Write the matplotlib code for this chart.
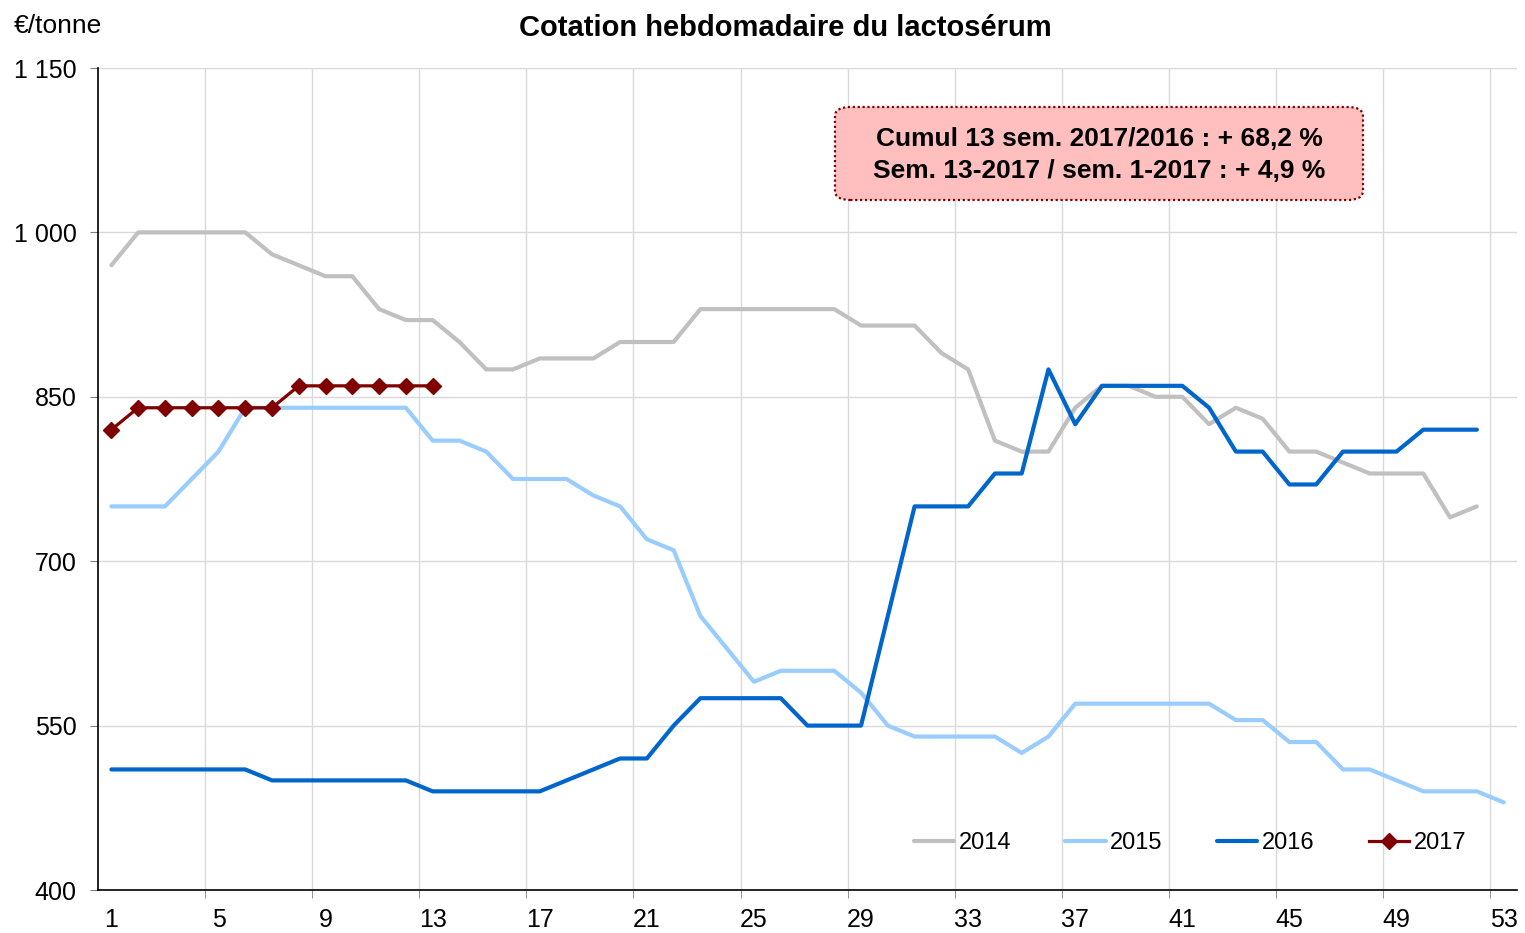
import matplotlib
matplotlib.use("Agg")
import matplotlib.pyplot as plt
from matplotlib.patches import FancyBboxPatch

plt.rcParams['font.family'] = ['Liberation Sans', 'DejaVu Sans']

# weekly whey prices, euro / tonne
weeks = list(range(1, 54))
p2014 = [970, 1000, 1000, 1000, 1000, 1000, 980, 970, 960, 960, 930, 920, 920, 900, 875, 875, 885, 885, 885, 900,
         900, 900, 930, 930, 930, 930, 930, 930, 915, 915, 915, 890, 875, 810, 800, 800, 840, 860, 860, 850,
         850, 825, 840, 830, 800, 800, 790, 780, 780, 780, 740, 750]
p2015 = [750, 750, 750, 775, 800, 840, 840, 840, 840, 840, 840, 840, 810, 810, 800, 775, 775, 775, 760, 750,
         720, 710, 650, 620, 590, 600, 600, 600, 580, 550, 540, 540, 540, 540, 525, 540, 570, 570, 570, 570,
         570, 570, 555, 555, 535, 535, 510, 510, 500, 490, 490, 490, 480]
p2016 = [510, 510, 510, 510, 510, 510, 500, 500, 500, 500, 500, 500, 490, 490, 490, 490, 490, 500, 510, 520,
         520, 550, 575, 575, 575, 575, 550, 550, 550, 650, 750, 750, 750, 780, 780, 875, 825, 860, 860, 860,
         860, 840, 800, 800, 770, 770, 800, 800, 800, 820, 820, 820]
p2017 = [820, 840, 840, 840, 840, 840, 840, 860, 860, 860, 860, 860, 860]

yticks = [400, 550, 700, 850, 1000, 1150]
ylabels = ['400', '550', '700', '850', '1 000', '1 150']
xlabels = [1, 5, 9, 13, 17, 21, 25, 29, 33, 37, 41, 45, 49, 53]
note = "Cumul 13 sem. 2017/2016 : + 68,2 %\nSem. 13-2017 / sem. 1-2017 : + 4,9 %"

fig = plt.figure(figsize=(15.25, 9.33), dpi=100)
ax = fig.add_axes([98/1525, 1 - 890/933, (1517-98)/1525, (890-68)/933])

ax.plot(weeks[:len(p2014)], p2014, color='#C0C0C0', lw=3, label='2014', solid_capstyle='round')
ax.plot(weeks[:len(p2015)], p2015, color='#99CCFF', lw=3, label='2015', solid_capstyle='round')
ax.plot(weeks[:len(p2016)], p2016, color='#0066CC', lw=3, label='2016', solid_capstyle='round')
ax.plot(weeks[:len(p2017)], p2017, color='#800000', lw=2.3, marker='D', ms=8.5, label='2017')

ax.set_xlim(0.5, 53.5)
ax.set_ylim(400, 1150)
ax.set_yticks(yticks)
ax.set_yticklabels(ylabels, fontsize=18)
ax.set_xticks(xlabels)
ax.set_xticklabels([str(x) for x in xlabels], fontsize=18)
ax.set_xticks([4.5 + 4*k for k in range(13)], minor=True)
ax.tick_params(axis='x', which='major', length=0, pad=13)
ax.tick_params(axis='x', which='minor', length=5.5, direction='out', color='#808080')
ax.tick_params(axis='y', length=5.5, direction='out', color='#808080', pad=10)

ax.grid(True, which='minor', axis='x', color='#D9D9D9', lw=1)
ax.grid(True, which='major', axis='y', color='#D9D9D9', lw=1)
ax.set_axisbelow(True)
for s in ['top', 'right']:
    ax.spines[s].set_visible(False)
ax.spines['left'].set_linewidth(1.2)
ax.spines['bottom'].set_linewidth(1.2)

fig.text(785/1525, 1 - 28/933, "Cotation hebdomadaire du lactosérum", ha='center', va='center',
         fontsize=21, fontweight='bold')
fig.text(14/1525, 1 - 26/933, "€/tonne", ha='left', va='center', fontsize=19)

# annotation box
box = FancyBboxPatch((835/1525, 1 - 200/933), (1363-835)/1525, (200-107)/933,
                     boxstyle="round,pad=0,rounding_size=0.01", transform=fig.transFigure,
                     facecolor='#FFBFBF', edgecolor='#800000', lw=1.6, linestyle=(0, (1, 1.2)))
fig.patches.append(box)
fig.text(1099/1525, 1 - 155/933, note, ha='center', va='center', fontsize=19, fontweight='bold',
         linespacing=1.4)

ax.legend(loc='center', bbox_to_anchor=(1190/1525, 1 - 843/933), bbox_transform=fig.transFigure,
          ncol=4, frameon=False, fontsize=17, handlelength=1.7, handletextpad=0.2, columnspacing=2.3)

fig.savefig('out.png', dpi=100)
